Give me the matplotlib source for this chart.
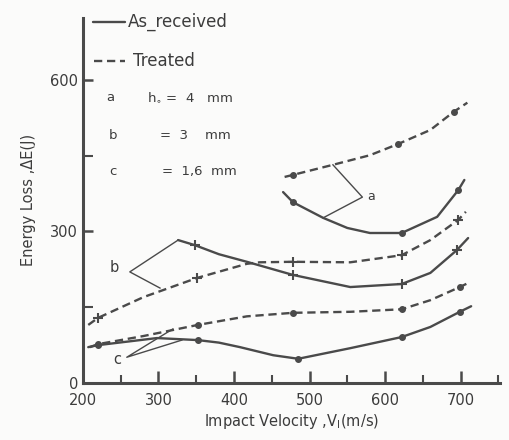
import matplotlib
matplotlib.use("Agg")
import matplotlib.pyplot as plt
from matplotlib.ticker import MultipleLocator

# ---- data (velocity m/s, energy loss J) ----
a_solid_x = [465, 478, 518, 550, 580, 622, 669, 697, 705]
a_solid_y = [378, 358, 327, 307, 297, 297, 329, 382, 402]
a_solid_mx = [478, 622, 697]
a_solid_my = [358, 297, 382]

a_treat_x = [467, 478, 531, 580, 617, 660, 691, 709]
a_treat_y = [408, 412, 432, 451, 473, 501, 537, 555]
a_treat_mx = [478, 617, 691]
a_treat_my = [412, 473, 537]

b_solid_x = [326, 348, 380, 417, 478, 554, 622, 660, 695, 710]
b_solid_y = [283, 273, 255, 240, 214, 190, 196, 218, 263, 287]
b_solid_mx = [348, 478, 622, 695]
b_solid_my = [273, 214, 196, 263]

b_treat_x = [207, 220, 280, 351, 417, 434, 478, 554, 622, 660, 697, 707]
b_treat_y = [115, 129, 170, 208, 236, 239, 240, 239, 253, 283, 323, 339]
b_treat_mx = [220, 351, 478, 622, 697]
b_treat_my = [129, 208, 240, 253, 323]

c_solid_x = [207, 220, 298, 352, 380, 408, 452, 485, 554, 622, 660, 699, 714]
c_solid_y = [71, 75, 89, 85, 80, 71, 55, 48, 69, 91, 111, 141, 152]
c_solid_mx = [220, 352, 485, 622, 699]
c_solid_my = [75, 85, 48, 91, 141]

c_treat_x = [209, 220, 280, 352, 417, 478, 554, 622, 660, 699, 710]
c_treat_y = [71, 77, 93, 115, 132, 139, 141, 146, 164, 190, 198]
c_treat_mx = [220, 352, 478, 622, 699]
c_treat_my = [77, 115, 139, 146, 190]

# pointer lines from the curve labels
a_ptr_x = [531, 570, 518]
a_ptr_y = [432, 368, 327]
b_ptr_x = [326, 262, 302]
b_ptr_y = [283, 220, 188]
c_ptr_x = [319, 258, 331]
c_ptr_y = [107, 51, 85]

INK = "#4a4a4a"
TXT = "#3c3c3c"

fig = plt.figure(figsize=(5.09, 4.40), dpi=100, facecolor="#fbfbfa")
ax = fig.add_axes([0.163, 0.1295, 0.819, 0.83])
ax.set_facecolor("#fbfbfa")

solid = dict(color=INK, lw=1.7, solid_capstyle="round")
dashed = dict(color=INK, lw=1.7, linestyle=(0, (3.5, 2.0)))

ax.plot(a_solid_x, a_solid_y, **solid)
ax.plot(a_treat_x, a_treat_y, **dashed)
ax.plot(b_solid_x, b_solid_y, **solid)
ax.plot(b_treat_x, b_treat_y, **dashed)
ax.plot(c_solid_x, c_solid_y, **solid)
ax.plot(c_treat_x, c_treat_y, **dashed)

mk_o = dict(ls="none", marker="o", ms=4, color=INK)
mk_p = dict(ls="none", marker="+", ms=7, mew=1.5, color=INK)
ax.plot(a_solid_mx, a_solid_my, **mk_o)
ax.plot(a_treat_mx, a_treat_my, **mk_o)
ax.plot(b_solid_mx, b_solid_my, **mk_p)
ax.plot(b_treat_mx, b_treat_my, **mk_p)
ax.plot(c_solid_mx, c_solid_my, **mk_o)
ax.plot(c_treat_mx, c_treat_my, **mk_o)

thin = dict(color=INK, lw=1.0)
ax.plot(a_ptr_x, a_ptr_y, **thin)
ax.plot(b_ptr_x, b_ptr_y, **thin)
ax.plot(c_ptr_x, c_ptr_y, **thin)
ax.text(582, 370, "a", fontsize=9, color=TXT, ha="center", va="center")
ax.text(242, 228, "b", fontsize=10.5, color=TXT, ha="center", va="center")
ax.text(246, 46, "c", fontsize=10.5, color=TXT, ha="center", va="center")

# hand-drawn style legend inside the axes
ax.plot([213, 255], [715, 715], **solid)
ax.text(259, 715, "As_received", fontsize=12, color=TXT, va="center")
ax.plot([215, 255], [637, 637], **dashed)
ax.text(266, 637, "Treated", fontsize=12, color=TXT, va="center")
ax.text(236, 565, "a", fontsize=9.5, color=TXT, va="center", ha="center")
ax.text(285, 565, "h$_{\\circ}$ =  4   mm", fontsize=9.5, color=TXT, va="center")
ax.text(240, 491, "b", fontsize=9.5, color=TXT, va="center", ha="center")
ax.text(302, 491, "=  3    mm", fontsize=9.5, color=TXT, va="center")
ax.text(240, 418, "c", fontsize=9.5, color=TXT, va="center", ha="center")
ax.text(304, 418, "=  1,6  mm", fontsize=9.5, color=TXT, va="center")

ax.set_xlim(200, 752)
ax.set_ylim(0, 723)
ax.spines["top"].set_visible(False)
ax.spines["right"].set_visible(False)
for s in ("left", "bottom"):
    ax.spines[s].set_linewidth(2.2)
    ax.spines[s].set_color(INK)

ax.xaxis.set_major_locator(MultipleLocator(100))
ax.xaxis.set_minor_locator(MultipleLocator(50))
ax.yaxis.set_major_locator(MultipleLocator(300))
ax.yaxis.set_minor_locator(MultipleLocator(150))
ax.tick_params(which="major", direction="in", length=9, width=1.8, color=INK,
               labelsize=10.5, labelcolor=TXT)
ax.tick_params(which="minor", direction="in", length=6, width=1.5, color=INK)
ax.tick_params(axis="y", which="both", length=7)
ax.tick_params(axis="x", which="major", pad=7)

ax.set_xlabel("Impact Velocity ,V$_{\\mathregular{I}}$(m/s)", fontsize=10.5,
              color=TXT, labelpad=3)
ax.set_ylabel("Energy Loss ,ΔE(J)", fontsize=10.5, color=TXT, labelpad=10)

fig.savefig("out.png", dpi=100, facecolor=fig.get_facecolor())
